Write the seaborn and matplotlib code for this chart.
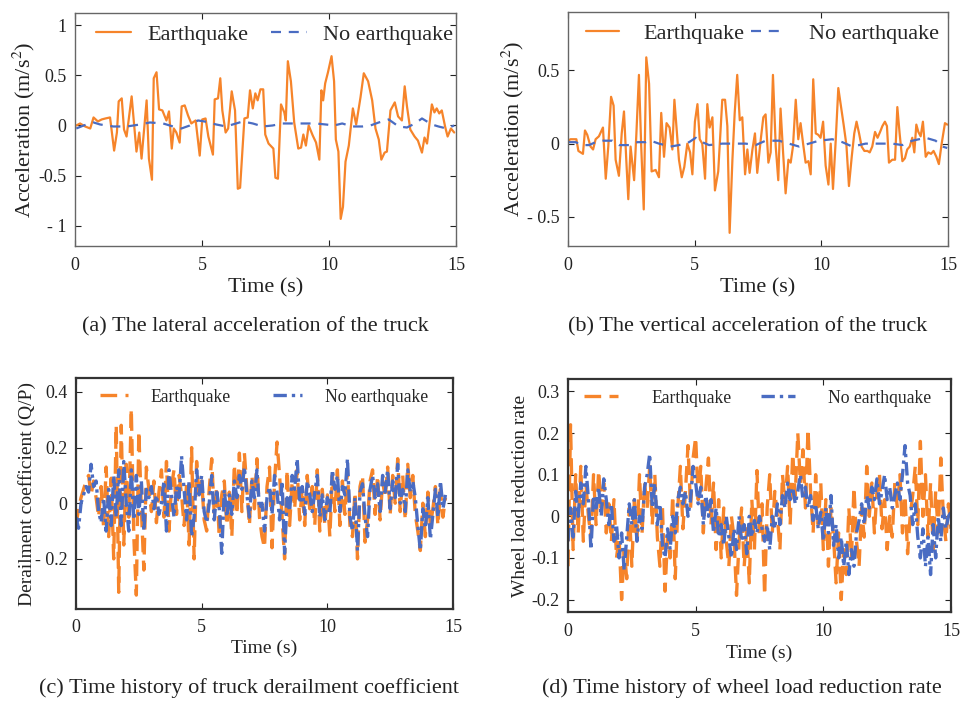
import numpy as np
import matplotlib
matplotlib.use("Agg")
import matplotlib.pyplot as plt
import seaborn as sns

# ---------------- data ----------------
# (a) lateral acceleration
a_t_eq = [0.05,0.2,0.4,0.6,0.73,0.9,1.05,1.2,1.38,1.54,
          1.65,1.72,1.84,1.93,2.03,2.23,2.42,2.53,2.62,2.82,
          2.91,3.03,3.1,3.21,3.31,3.44,3.6,3.7,3.81,3.89,
          3.99,4.12,4.2,4.32,4.45,4.58,4.75,4.91,5.01,5.14,
          5.25,5.43,5.5,5.63,5.72,5.8,5.93,6.03,6.17,6.3,
          6.41,6.5,6.67,6.8,6.89,7.0,7.1,7.19,7.3,7.41,
          7.49,7.62,7.81,7.89,7.99,8.11,8.24,8.3,8.38,8.5,
          8.63,8.79,8.9,8.99,9.09,9.2,9.36,9.49,9.62,9.7,
          9.77,9.85,9.96,10.1,10.2,10.27,10.37,10.46,10.55,10.65,
          10.78,10.94,11.07,11.24,11.37,11.54,11.7,11.83,11.96,12.06,
          12.19,12.28,12.42,12.59,12.72,12.87,12.98,13.07,13.2,13.37,
          13.5,13.66,13.76,13.86,14.05,14.15,14.24,14.34,14.44,14.57,
          14.67,14.8,14.93]
a_eq = [0.0,0.02,-0.01,-0.03,0.08,0.04,0.06,0.07,0.08,-0.25,
        -0.07,0.24,0.27,-0.04,-0.11,0.29,-0.26,-0.07,-0.33,0.25,
        -0.33,-0.54,0.47,0.53,0.16,0.15,0.05,0.14,-0.23,-0.03,
        -0.07,-0.17,0.19,0.2,0.1,0.02,0.05,-0.3,0.06,0.07,
        -0.11,-0.29,0.26,0.27,0.47,0.15,-0.07,-0.03,0.34,0.15,
        -0.63,-0.62,0.07,0.08,0.35,0.17,0.32,0.25,0.36,0.36,
        -0.09,-0.18,-0.23,-0.52,-0.53,0.21,0.13,0.05,0.64,0.44,
        0.03,-0.23,-0.22,-0.09,-0.2,0.0,-0.1,-0.17,-0.34,0.35,
        0.25,0.42,0.53,0.69,0.44,-0.14,-0.26,-0.93,-0.81,-0.36,
        -0.2,0.17,0.01,0.28,0.52,0.44,0.25,-0.03,-0.14,-0.34,
        -0.27,-0.26,0.15,0.23,0.09,0.05,0.39,0.19,-0.04,-0.11,
        -0.15,-0.27,-0.12,-0.18,0.21,0.13,0.17,0.12,0.15,-0.01,
        -0.11,-0.03,-0.07]
a_t_no = [0.05,0.34,0.73,0.99,1.51,2.04,2.56,2.95,3.47,3.86,
          4.19,4.52,4.84,5.1,5.56,5.95,6.21,6.61,7.0,7.39,
          7.78,8.17,8.56,8.96,9.48,9.87,10.2,10.52,10.91,11.31,
          11.63,11.96,12.35,12.74,13.07,13.39,13.66,14.05,14.31,14.63,
          14.93]
a_no = [-0.03,0.0,0.03,0.01,-0.01,-0.01,0.01,0.03,0.02,-0.01,
        -0.03,0.0,0.05,0.04,0.01,-0.01,0.01,0.04,0.02,-0.01,
        0.0,0.02,0.02,0.02,0.02,0.01,0.0,0.02,-0.01,-0.01,
        0.0,0.03,0.06,-0.01,-0.02,0.02,0.07,0.01,-0.01,-0.03,
        0.0]

# (b) vertical acceleration
b_t_eq = [0.01,0.1,0.24,0.33,0.41,0.59,0.67,0.76,0.89,0.99,
          1.09,1.22,1.38,1.49,1.59,1.7,1.8,1.88,2.01,2.12,
          2.21,2.3,2.38,2.47,2.61,2.7,2.8,2.89,2.99,3.09,
          3.2,3.3,3.46,3.59,3.68,3.79,3.89,4.01,4.12,4.2,
          4.3,4.38,4.49,4.59,4.71,4.82,4.91,5.01,5.11,5.2,
          5.3,5.41,5.5,5.59,5.7,5.8,5.93,6.09,6.2,6.29,
          6.38,6.49,6.58,6.68,6.78,6.88,6.99,7.08,7.17,7.28,
          7.38,7.47,7.61,7.71,7.8,7.91,8.0,8.09,8.2,8.3,
          8.39,8.49,8.59,8.7,8.79,8.88,8.99,9.09,9.18,9.28,
          9.38,9.49,9.58,9.68,9.78,9.88,9.97,10.07,10.17,10.28,
          10.37,10.46,10.57,10.67,10.78,10.88,10.99,11.09,11.2,11.3,
          11.39,11.49,11.59,11.7,11.82,11.91,12.01,12.12,12.22,12.32,
          12.41,12.51,12.59,12.67,12.8,12.91,13.0,13.09,13.2,13.3,
          13.39,13.49,13.59,13.67,13.75,13.83,13.92,14.01,14.12,14.22,
          14.33,14.43,14.54,14.64,14.75,14.88,14.97]
b_eq = [0.02,0.03,0.03,0.03,-0.05,-0.07,0.09,0.06,-0.02,-0.04,
        0.03,0.05,0.11,-0.24,-0.02,0.32,0.26,-0.11,-0.22,0.07,
        0.22,-0.11,-0.38,-0.02,-0.25,0.07,0.47,-0.02,-0.45,0.59,
        0.41,-0.19,-0.18,-0.23,0.21,-0.09,0.14,0.11,-0.04,0.3,
        0.07,-0.11,-0.23,-0.16,0.0,-0.06,-0.21,0.15,0.27,0.03,
        0.0,-0.24,0.27,0.11,0.18,-0.32,-0.19,0.3,0.3,0.12,
        -0.61,-0.11,0.21,0.47,0.16,0.18,-0.21,-0.04,-0.2,-0.04,
        0.07,-0.2,0.03,0.18,0.2,-0.13,-0.06,0.47,-0.02,-0.25,
        0.24,-0.06,-0.34,-0.11,-0.13,-0.02,0.3,0.03,0.14,0.0,
        -0.13,-0.12,-0.21,0.44,0.07,0.06,0.04,0.15,-0.15,-0.28,
        0.0,-0.31,0.03,0.38,0.25,0.13,-0.01,-0.29,-0.09,0.07,
        0.15,0.07,-0.02,-0.05,-0.05,-0.06,-0.02,0.08,0.04,0.08,
        0.12,0.15,0.12,-0.13,-0.11,-0.11,0.25,0.07,-0.12,-0.1,
        -0.04,-0.02,0.04,-0.06,0.13,0.08,0.05,0.15,-0.09,-0.06,
        -0.07,-0.05,-0.09,-0.14,0.0,0.14,0.13]
b_t_no = [0.01,0.3,0.57,0.83,1.09,1.36,1.75,2.01,2.41,2.74,
          3.07,3.26,3.59,4.05,4.38,4.78,5.04,5.3,5.57,6.09,
          6.49,7.01,7.41,7.8,8.33,8.72,9.12,9.51,9.91,10.43,
          10.83,11.22,11.75,12.28,12.8,13.2,13.59,14.12,14.51,14.78,
          14.97]
b_no = [0.01,0.01,-0.01,-0.01,0.01,0.02,0.02,-0.01,-0.01,0.01,
        0.01,0.02,0.0,-0.02,-0.01,0.01,0.04,0.01,-0.01,0.0,
        0.0,0.0,-0.01,0.02,0.02,0.0,-0.02,0.0,0.02,0.03,
        0.01,-0.02,0.0,0.0,0.0,-0.01,0.02,0.04,0.02,-0.02,
        -0.03]

# (c) derailment coefficient, sampled every 0.1 s from 0 to 14.7 s
c_eq = [-0.08,-0.02,0.02,0.05,0.08,0.1,0.03,0.08,0.02,-0.05,
        0.06,-0.09,0.13,-0.12,0.09,-0.2,0.28,-0.32,0.28,-0.15,
        0.14,-0.05,0.34,-0.12,-0.33,0.26,-0.02,-0.24,0.13,0.05,
        -0.03,0.08,-0.07,0.04,0.12,-0.05,0.15,-0.1,0.06,0.12,
        -0.04,0.1,0.03,-0.08,0.07,-0.15,0.2,-0.2,0.15,0.02,
        0.08,-0.06,-0.1,0.05,0.16,-0.04,0.06,-0.12,0.03,0.08,
        -0.08,0.04,-0.12,0.14,-0.04,0.18,-0.03,0.18,0.05,-0.08,
        0.1,-0.02,0.16,-0.05,-0.12,-0.16,0.06,0.13,-0.16,0.08,
        0.22,0.1,-0.05,-0.2,0.12,-0.08,0.08,-0.02,0.12,-0.06,
        0.05,-0.08,0.1,-0.02,0.06,-0.08,0.12,-0.1,0.05,-0.08,
        0.03,-0.12,0.1,-0.03,0.12,-0.08,0.08,-0.04,0.12,-0.08,
        -0.12,0.04,-0.2,0.06,0.1,-0.14,-0.06,0.08,0.12,-0.04,
        0.1,-0.06,0.08,0.02,0.13,-0.04,0.1,0.0,0.16,-0.03,
        0.1,-0.06,0.14,0.02,0.1,-0.04,-0.1,-0.17,0.0,-0.12,
        0.04,-0.08,-0.02,0.06,-0.08,0.05,-0.05,0.02]
c_no = [-0.05,-0.09,0.0,0.03,0.06,0.04,0.14,0.06,0.08,-0.03,
        -0.07,0.02,-0.1,0.05,-0.08,0.1,-0.05,0.12,-0.08,0.15,
        0.0,-0.1,0.12,-0.06,0.1,-0.04,0.08,-0.1,0.05,0.02,
        0.06,-0.02,0.03,-0.04,0.0,0.08,-0.1,0.12,0.03,-0.05,
        0.06,0.02,0.17,0.05,-0.06,0.08,-0.12,-0.05,0.12,0.03,
        0.1,-0.03,-0.07,0.0,0.1,-0.06,0.04,-0.02,-0.18,0.05,
        -0.05,0.03,-0.04,0.08,0.02,0.1,0.05,0.13,0.03,-0.05,
        0.08,0.02,0.12,-0.02,0.0,-0.1,0.02,0.06,-0.04,0.1,
        0.04,-0.06,0.08,-0.18,0.02,-0.03,0.1,0.05,0.16,0.0,
        0.06,-0.04,0.08,0.03,-0.03,0.04,0.1,-0.05,0.03,-0.06,
        0.02,-0.04,0.12,0.05,0.1,-0.03,0.06,0.03,0.16,-0.05,
        -0.1,0.02,-0.17,0.04,0.07,-0.05,-0.12,0.05,0.1,0.02,
        0.07,-0.03,0.1,0.04,0.12,-0.02,0.08,0.02,0.14,0.0,
        0.05,-0.03,0.12,0.04,0.08,0.02,-0.08,-0.17,-0.02,-0.09,
        0.02,-0.13,-0.04,0.05,-0.05,0.08,-0.02,0.03]
c_end = 14.7

# (d) wheel load reduction rate, sampled every 0.1 s from 0 to 15 s
d_eq = [-0.12,0.22,-0.08,0.1,-0.04,0.12,-0.06,0.08,0.0,-0.05,
        0.1,-0.02,0.11,0.02,0.08,-0.04,0.03,-0.06,0.04,-0.1,
        -0.05,-0.2,-0.08,-0.15,0.02,-0.12,0.04,-0.06,0.1,-0.04,
        0.08,0.02,0.12,-0.02,0.1,-0.05,-0.12,0.02,-0.18,-0.05,
        -0.1,0.05,-0.15,0.02,0.12,-0.03,0.06,0.17,0.02,0.14,
        0.19,0.04,0.12,-0.04,0.07,0.14,-0.02,0.08,-0.08,0.04,
        -0.1,0.02,-0.06,-0.12,0.0,-0.05,-0.19,-0.06,0.02,-0.12,
        -0.03,-0.16,0.04,-0.08,0.11,-0.05,0.03,-0.19,0.02,0.1,
        -0.04,0.06,0.0,-0.08,0.1,0.03,0.12,-0.02,0.15,0.05,
        0.2,0.08,0.16,0.02,0.21,0.06,-0.04,0.1,-0.02,0.08,
        -0.08,0.04,-0.12,0.02,-0.05,-0.16,-0.04,-0.2,-0.08,-0.14,
        0.02,-0.1,0.07,-0.06,-0.12,0.02,-0.05,0.12,0.0,0.08,
        -0.04,0.06,0.1,-0.03,0.04,-0.08,0.0,-0.05,0.08,0.02,
        0.1,-0.04,0.05,-0.09,0.0,0.05,0.12,-0.02,0.18,0.0,
        0.1,-0.05,0.08,-0.08,0.06,-0.04,0.14,0.0,-0.06,0.03,
        -0.03]
d_no = [-0.06,0.02,-0.05,0.06,0.0,0.08,0.03,0.12,0.04,-0.08,
        0.05,0.02,0.07,0.0,0.09,0.04,-0.02,0.03,-0.06,-0.02,
        -0.1,-0.04,-0.13,-0.05,0.03,-0.02,0.04,-0.06,0.0,-0.03,
        0.07,0.1,0.15,0.02,0.08,-0.02,0.03,-0.07,-0.1,-0.03,
        -0.08,0.0,-0.04,0.04,0.07,0.03,0.06,0.0,0.04,0.12,
        0.08,0.03,0.07,-0.02,0.05,0.0,0.04,-0.04,0.02,-0.05,
        -0.02,-0.07,0.0,-0.05,-0.1,-0.03,-0.08,0.0,-0.06,-0.02,
        -0.09,0.0,-0.05,-0.01,-0.04,0.0,-0.03,-0.06,-0.02,-0.08,
        0.0,-0.03,0.03,-0.02,0.05,0.02,0.08,0.04,0.07,0.03,
        0.06,0.1,0.04,0.07,0.02,0.05,-0.01,0.03,-0.03,0.01,
        -0.06,0.02,-0.04,0.05,-0.07,-0.02,-0.1,-0.05,-0.12,-0.06,
        -0.14,-0.08,-0.12,-0.04,-0.01,0.03,-0.02,0.05,0.02,0.07,
        0.04,0.09,0.03,0.06,0.1,0.04,0.07,0.02,0.05,0.08,
        0.04,0.1,0.17,0.08,0.05,-0.02,0.03,-0.05,-0.1,-0.03,
        -0.12,-0.05,-0.14,-0.02,-0.1,0.0,-0.06,0.02,-0.03,0.0,
        0.01]
d_end = 15.0

legend_labels = ["Earthquake", "No earthquake"]
captions = ["(a) The lateral acceleration of the truck",
            "(b) The vertical acceleration of the truck",
            "(c) Time history of truck derailment coefficient",
            "(d) Time history of wheel load reduction rate"]
xticks = [0, 5, 10, 15]
a_yticks = [-1, -0.5, 0, 0.5, 1]
a_yticklabels = ["- 1", "-0.5", "0", "0.5", "1"]
b_yticks = [-0.5, 0, 0.5]
b_yticklabels = ["- 0.5", "0", "0.5"]
c_yticks = [-0.2, 0, 0.2, 0.4]
c_yticklabels = ["- 0.2", "0", "0.2", "0.4"]
d_yticks = [-0.2, -0.1, 0, 0.1, 0.2, 0.3]
d_yticklabels = ["-0.2", "-0.1", "0", "0.1", "0.2", "0.3"]

# ---------------- style ----------------
sns.set_theme(style="ticks")
plt.rcParams['font.family'] = ['Liberation Serif', 'DejaVu Serif']
plt.rcParams['axes.unicode_minus'] = False
plt.rcParams['mathtext.fontset'] = 'stix'

ORANGE = "#F6842A"
BLUE = "#4A6CC2"
W, H = 967, 701

fig = plt.figure(figsize=(W / 100, H / 100), dpi=100)


def box(l, t, r, b):
    return [l / W, 1 - b / H, (r - l) / W, (b - t) / H]


axa = fig.add_axes(box(75, 13, 456, 246))
axb = fig.add_axes(box(568, 12, 948, 246))
axc = fig.add_axes(box(76, 378, 453, 609))
axd = fig.add_axes(box(568, 379, 951, 612))

# (a)
sns.lineplot(x=a_t_eq, y=a_eq, ax=axa, color=ORANGE, lw=1.6,
             label=legend_labels[0], sort=False, errorbar=None)
sns.lineplot(x=a_t_no, y=a_no, ax=axa, color=BLUE, lw=1.6,
             linestyle=(0, (4.5, 3.5)), label=legend_labels[1],
             sort=False, errorbar=None)
# (b)
sns.lineplot(x=b_t_eq, y=b_eq, ax=axb, color=ORANGE, lw=1.6,
             label=legend_labels[0], sort=False, errorbar=None)
sns.lineplot(x=b_t_no, y=b_no, ax=axb, color=BLUE, lw=1.6,
             linestyle=(0, (4.5, 3.5)), label=legend_labels[1],
             sort=False, errorbar=None)
# (c)
c_t_eq = np.linspace(0, c_end, len(c_eq))
c_t_no = np.linspace(0, c_end, len(c_no))
sns.lineplot(x=c_t_eq, y=c_eq, ax=axc, color=ORANGE, lw=2.4,
             linestyle=(0, (5, 2.5)), label=legend_labels[0],
             sort=False, errorbar=None)
sns.lineplot(x=c_t_no, y=c_no, ax=axc, color=BLUE, lw=2.4,
             linestyle=(0, (4, 1.5, 1, 1.5)), label=legend_labels[1],
             sort=False, errorbar=None)
# (d)
d_t_eq = np.linspace(0, d_end, len(d_eq))
d_t_no = np.linspace(0, d_end, len(d_no))
sns.lineplot(x=d_t_eq, y=d_eq, ax=axd, color=ORANGE, lw=2.4,
             linestyle=(0, (5, 2.5)), label=legend_labels[0],
             sort=False, errorbar=None)
sns.lineplot(x=d_t_no, y=d_no, ax=axd, color=BLUE, lw=2.4,
             linestyle=(0, (4, 1.5, 1, 1.5)), label=legend_labels[1],
             sort=False, errorbar=None)

cfg = [
    (axa, (-1.2, 1.12), a_yticks, a_yticklabels, "Acceleration (m/s$^2$)", 16, "#666666", 1.0, 1, 8, 3),
    (axb, (-0.7, 0.9), b_yticks, b_yticklabels, "Acceleration (m/s$^2$)", 16, "#666666", 1.0, 1, 8, 3),
    (axc, (-0.38, 0.45), c_yticks, c_yticklabels, "Derailment coefficient (Q/P)", 14, "#333333", 1.6, -1, 7, 3),
    (axd, (-0.23, 0.33), d_yticks, d_yticklabels, "Wheel load reduction rate", 14, "#333333", 1.6, 2, 8, 3),
]
for ax, ylim, yt, ytl, ylab, lfs, sc, slw, ylp, xpad, xlp in cfg:
    ax.set_xlim(0, 15)
    ax.set_ylim(*ylim)
    ax.set_xticks(xticks)
    ax.set_xticklabels([str(v) for v in xticks])
    ax.set_yticks(yt)
    ax.set_yticklabels(ytl)
    ax.tick_params(direction="in", top=True, right=True, length=4,
                   width=0.8, labelsize=13, colors="#222222")
    ax.tick_params(axis="x", pad=xpad)
    ax.tick_params(axis="y", pad=6)
    for s in ax.spines.values():
        s.set_color(sc)
        s.set_linewidth(slw)
    ax.set_xlabel("Time (s)", fontsize=lfs, labelpad=xlp, color="#222222")
    ax.set_ylabel(ylab, fontsize=lfs, labelpad=ylp, color="#222222")

axa.legend(loc="upper left", bbox_to_anchor=(0.025, 1.0), ncol=2,
           frameon=False, fontsize=16, handlelength=1.6,
           handletextpad=0.75, columnspacing=1.0, borderaxespad=0.1)
axb.legend(loc="upper left", bbox_to_anchor=(0.018, 1.0), ncol=2,
           frameon=False, fontsize=16, handlelength=1.5,
           handletextpad=1.1, columnspacing=0.3, borderaxespad=0.1)
axc.legend(loc="upper left", bbox_to_anchor=(0.035, 1.0), ncol=2,
           frameon=False, fontsize=12.7, handlelength=1.6,
           handletextpad=1.3, columnspacing=2.4, borderaxespad=0.2)
axd.legend(loc="upper left", bbox_to_anchor=(0.015, 1.0), ncol=2,
           frameon=False, fontsize=12.7, handlelength=1.9,
           handletextpad=1.9, columnspacing=1.7, borderaxespad=0.2)

cap_pos = [(255, 327), (748, 327), (249, 688), (742, 688)]
for (cx, cy), txt in zip(cap_pos, captions):
    fig.text(cx / W, 1 - cy / H, txt, ha="center", va="center",
             fontsize=16, color="#222222")

fig.savefig("out.png", dpi=100)
